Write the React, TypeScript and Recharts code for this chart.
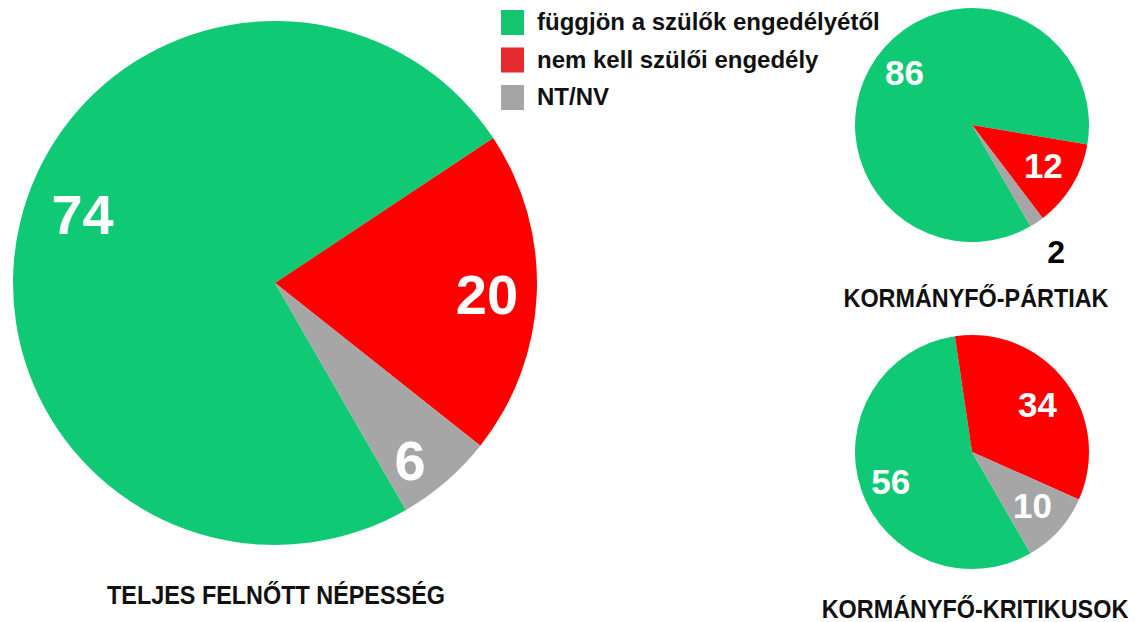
import { PieChart, Pie, Cell } from "recharts";

const categories = ["függjön a szülők engedélyétől", "nem kell szülői engedély", "NT/NV"];
const totalValues = [74, 20, 6];
const proGovValues = [86, 12, 2];
const criticValues = [56, 34, 10];
const groupTitles = ["TELJES FELNŐTT NÉPESSÉG", "KORMÁNYFŐ-PÁRTIAK", "KORMÁNYFŐ-KRITIKUSOK"];

const PIE_COLORS = ["#10C975", "#FF0000", "#A6A6A6"];
const LEGEND_COLORS = ["#14C46E", "#E52B2F", "#A5A5A5"];
const FONT = "'Liberation Sans', Arial, sans-serif";
const RAD = Math.PI / 180;

const toRows = (vals: number[]) => vals.map((v, i) => ({ name: categories[i], value: v }));

// labels sit near the slice's mid angle (with a small per-slice nudge);
// tiny slices get a black label outside the pie
const makeLabel = (fontSize: number, radii: number[], nudge: number[]) => (props: any) => {
  const { cx, cy, midAngle, outerRadius, value, percent, index } = props;
  const small = percent < 0.05;
  const r = outerRadius * (small ? 1.3 : radii[index]);
  const a = (midAngle + (small ? 0 : nudge[index])) * RAD;
  const x = cx + r * Math.cos(-a);
  const y = cy + r * Math.sin(-a);
  return (
    <text
      x={x}
      y={y}
      fill={small ? "#000" : "#fff"}
      fontSize={small ? 32 : fontSize}
      fontWeight="bold"
      fontFamily={FONT}
      textAnchor="middle"
      dominantBaseline="central"
    >
      {value}
    </text>
  );
};

const pies = [
  { values: totalValues, cx: 275, cy: 283, r: 262, font: 56, radii: [0.78, 0.81, 0.85], nudge: [-6.5, -0.8, -3.5] },
  { values: proGovValues, cx: 972, cy: 125, r: 117, font: 35, radii: [0.73, 0.7, 0.7], nudge: [-3, 1.8, 0] },
  { values: criticValues, cx: 972, cy: 452, r: 117, font: 35, radii: [0.74, 0.69, 0.69], nudge: [1, -1.3, 0.5] },
];

const titles = [
  { x: 276, y: 604 },
  { x: 976, y: 307 },
  { x: 975, y: 618 },
];

export default function App() {
  return (
    <div style={{ position: "relative", width: 1135, height: 622, background: "#fff" }}>
      <style>{`body{margin:0}`}</style>
      <PieChart width={1135} height={622} margin={{ top: 0, right: 0, bottom: 0, left: 0 }}>
        {pies.map((p, k) => (
          <Pie
            key={k}
            data={toRows(p.values)}
            dataKey="value"
            nameKey="name"
            cx={p.cx}
            cy={p.cy}
            outerRadius={p.r}
            startAngle={300}
            endAngle={-60}
            stroke="none"
            labelLine={false}
            label={makeLabel(p.font, p.radii, p.nudge)}
            isAnimationActive={false}
          >
            {p.values.map((_, i) => (
              <Cell key={i} fill={PIE_COLORS[i]} />
            ))}
          </Pie>
        ))}
      </PieChart>
      <svg
        width={1135}
        height={622}
        style={{ position: "absolute", left: 0, top: 0, pointerEvents: "none" }}
      >
        {categories.map((c, i) => (
          <g key={c}>
            <rect x={501} y={10 + i * 37.5} width={23} height={25} fill={LEGEND_COLORS[i]} />
            <text x={537} y={30 + i * 37.5} fontSize={24} fontWeight="bold" fontFamily={FONT} fill="#111">
              {c}
            </text>
          </g>
        ))}
        {groupTitles.map((t, i) => (
          <text
            key={t}
            transform={`translate(${titles[i].x},${titles[i].y}) scale(0.9,1)`}
            x={0}
            y={0}
            textAnchor="middle"
            fontSize={26}
            fontWeight="bold"
            fontFamily={FONT}
            fill="#111"
          >
            {t}
          </text>
        ))}
      </svg>
    </div>
  );
}
